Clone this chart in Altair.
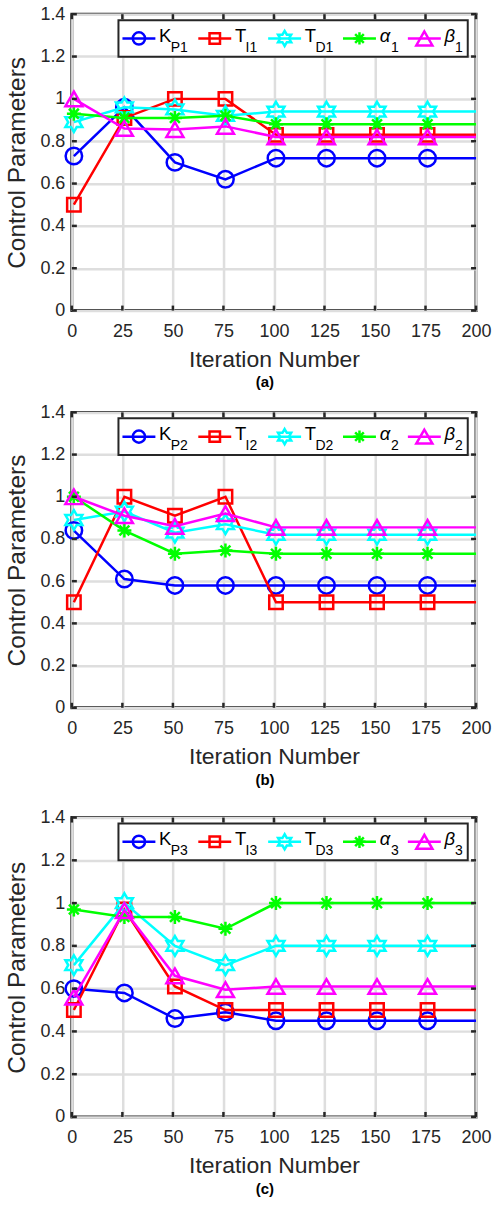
import altair as alt
import pandas as pd

FONT = "Liberation Sans, Arial, Helvetica, sans-serif"

# ---------------- data ----------------
iterations = [1, 26, 51, 76, 101, 126, 151, 176, 200]
n_markers = 8  # markers at the first 8 iterations only

# panel (a)
kp1 = [0.73, 0.96, 0.70, 0.62, 0.72, 0.72, 0.72, 0.72, 0.72]
ti1 = [0.50, 0.91, 1.00, 1.00, 0.83, 0.83, 0.83, 0.83, 0.83]
td1 = [0.89, 0.96, 0.95, 0.92, 0.94, 0.94, 0.94, 0.94, 0.94]
al1 = [0.93, 0.91, 0.91, 0.92, 0.88, 0.88, 0.88, 0.88, 0.88]
be1 = [1.00, 0.86, 0.855, 0.87, 0.82, 0.82, 0.82, 0.82, 0.82]

# panel (b)
kp2 = [0.84, 0.61, 0.58, 0.58, 0.58, 0.58, 0.58, 0.58, 0.58]
ti2 = [0.50, 1.00, 0.91, 1.00, 0.50, 0.50, 0.50, 0.50, 0.50]
td2 = [0.89, 0.93, 0.83, 0.87, 0.82, 0.82, 0.82, 0.82, 0.82]
al2 = [1.00, 0.84, 0.73, 0.745, 0.73, 0.73, 0.73, 0.73, 0.73]
be2 = [1.00, 0.91, 0.86, 0.92, 0.855, 0.855, 0.855, 0.855, 0.855]

# panel (c)
kp3 = [0.60, 0.58, 0.46, 0.49, 0.45, 0.45, 0.45, 0.45, 0.45]
ti3 = [0.50, 0.97, 0.61, 0.50, 0.50, 0.50, 0.50, 0.50, 0.50]
td3 = [0.71, 1.00, 0.80, 0.71, 0.80, 0.80, 0.80, 0.80, 0.80]
al3 = [0.97, 0.935, 0.935, 0.88, 1.00, 1.00, 1.00, 1.00, 1.00]
be3 = [0.56, 0.965, 0.66, 0.595, 0.61, 0.61, 0.61, 0.61, 0.61]

x_ticks = [0, 25, 50, 75, 100, 125, 150, 175, 200]
y_ticks = [0, 0.2, 0.4, 0.6, 0.8, 1.0, 1.2, 1.4]

legend_main = ["K", "T", "T", "\u03b1", "\u03b2"]
legend_sub = [["P1", "I1", "D1", "1", "1"],
              ["P2", "I2", "D2", "2", "2"],
              ["P3", "I3", "D3", "3", "3"]]
panel_labels = ["(a)", "(b)", "(c)"]

# ---------------- styles ----------------
COLORS = ["#0000ff", "#ff0000", "#00ffff", "#00ff00", "#ff00ff"]
HEXAGRAM = ("M0,-1L0.289,-0.5L0.866,-0.5L0.577,0L0.866,0.5L0.289,0.5L0,1"
            "L-0.289,0.5L-0.866,0.5L-0.577,0L-0.866,-0.5L-0.289,-0.5Z")
ASTERISK = ("M-1,0L1,0M0,-1L0,1M-0.707,-0.707L0.707,0.707"
            "M-0.707,0.707L0.707,-0.707")
SHAPES = ["circle", "square", HEXAGRAM, ASTERISK, "triangle-up"]
SIZES = [272, 182, 384, 196, 289]
LEG_SIZES = [150, 110, 230, 150, 260]

W = 405
HEIGHTS = [297, 296, 300]
LW = 2.5
TXT = "#262626"

# legend layout (pixels inside the plot area)
LEG_BOX = (46.7, 396.7, 6.0, 42.7)
LEG_X = [50.7, 126.7, 196.7, 271.7, 336.7]
LEG_LINE = 33
LEG_TXT = 36.7
LEG_MAIN_W = [11.6, 10.7, 10.7, 11.5, 10.5]
LEG_LY = 24.3
LEG_TY = 27.7
LEG_SY = 37.5

xs = alt.Scale(domain=[0, 200], nice=False, zero=False)
ys = alt.Scale(domain=[0, 1.4], nice=False, zero=True)

common_axis = dict(grid=True, ticks=False, domain=False, gridColor="#dedede",
                   gridWidth=2.5, labelFont=FONT, labelFontSize=18,
                   labelColor=TXT, titleFont=FONT, titleColor=TXT,
                   titleFontWeight="normal")
x_axis = alt.Axis(values=x_ticks, title="Iteration Number", labelPadding=12,
                  titleFontSize=23, titlePadding=8, labelFlush=False,
                  **common_axis)
y_axis = alt.Axis(values=y_ticks, title="Control Parameters", format=".1~f",
                  labelPadding=7, titleFontSize=24.5, titlePadding=10,
                  **common_axis)

one = pd.DataFrame({"k": [0]})


def panel(series, subs, label, H):
    layers = []
    for i, vals in enumerate(series):
        d = pd.DataFrame({"iter": iterations, "value": vals})
        layers.append(
            alt.Chart(d).mark_line(color=COLORS[i], strokeWidth=LW).encode(
                x=alt.X("iter:Q", scale=xs, axis=x_axis),
                y=alt.Y("value:Q", scale=ys, axis=y_axis)))
        dm = d.iloc[:n_markers]
        layers.append(
            alt.Chart(dm).mark_point(shape=SHAPES[i], filled=False,
                                     color=COLORS[i], size=SIZES[i],
                                     strokeWidth=LW, opacity=1).encode(
                x=alt.X("iter:Q", scale=xs, axis=x_axis),
                y=alt.Y("value:Q", scale=ys, axis=y_axis)))
    # inward ticks
    xt = pd.DataFrame({"t": x_ticks})
    yt = pd.DataFrame({"t": y_ticks})
    for (a, b) in [(H - 5, H), (0, 5)]:
        layers.append(alt.Chart(xt).mark_rule(color=TXT, strokeWidth=LW).encode(
            x=alt.X("t:Q", scale=xs, axis=x_axis),
            y=alt.value(a), y2=alt.value(b)))
    for (a, b) in [(0, 5), (W - 5, W)]:
        layers.append(alt.Chart(yt).mark_rule(color=TXT, strokeWidth=LW).encode(
            y=alt.Y("t:Q", scale=ys, axis=y_axis),
            x=alt.value(a), x2=alt.value(b)))
    # legend
    bx0, bx1, by0, by1 = LEG_BOX
    layers.append(alt.Chart(one).mark_rect(fill="white", stroke=TXT,
                                           strokeWidth=2).encode(
        x=alt.value(bx0), x2=alt.value(bx1), y=alt.value(by0), y2=alt.value(by1)))
    for i in range(5):
        x0 = LEG_X[i]
        layers.append(alt.Chart(one).mark_rule(color=COLORS[i], strokeWidth=LW).encode(
            x=alt.value(x0), x2=alt.value(x0 + LEG_LINE), y=alt.value(LEG_LY)))
        layers.append(alt.Chart(one).mark_point(shape=SHAPES[i], filled=False,
                                                color=COLORS[i], size=LEG_SIZES[i],
                                                strokeWidth=LW, opacity=1).encode(
            x=alt.value(x0 + LEG_LINE / 2), y=alt.value(LEG_LY)))
        italic = "italic" if i >= 3 else "normal"
        layers.append(alt.Chart(one).mark_text(text=legend_main[i], align="left",
                                               baseline="alphabetic", fontSize=18.5,
                                               font=FONT, fontStyle=italic,
                                               color="#000").encode(
            x=alt.value(x0 + LEG_TXT), y=alt.value(LEG_TY)))
        layers.append(alt.Chart(one).mark_text(text=subs[i], align="left",
                                               baseline="alphabetic", fontSize=14,
                                               font=FONT, color="#000").encode(
            x=alt.value(x0 + LEG_TXT + LEG_MAIN_W[i]), y=alt.value(LEG_SY)))
    return alt.layer(*layers).properties(
        width=W, height=H,
        title=alt.TitleParams(label, orient="bottom", fontSize=15,
                              fontWeight="bold", font=FONT, color="#000",
                              offset=4, dx=-9))


pa = panel([kp1, ti1, td1, al1, be1], legend_sub[0], panel_labels[0], HEIGHTS[0])
pb = panel([kp2, ti2, td2, al2, be2], legend_sub[1], panel_labels[1], HEIGHTS[1])
pc = panel([kp3, ti3, td3, al3, be3], legend_sub[2], panel_labels[2], HEIGHTS[2])

lower = alt.vconcat(pb, pc, spacing=17)
chart = alt.vconcat(pa, lower, spacing=9).properties(
    padding={"left": 3, "top": 2, "right": 0, "bottom": 0},
    background="white",
).configure_view(stroke=TXT, strokeWidth=3)

chart.save("out.html", embed_options={"renderer": "svg", "actions": False})
